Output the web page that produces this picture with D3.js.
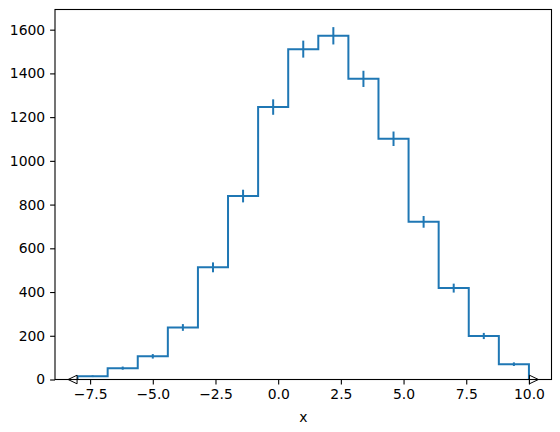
<!DOCTYPE html>
<html>
<head>
<meta charset="utf-8">
<script src="https://cdn.jsdelivr.net/npm/d3@7"></script>
<style>
  body { margin: 0; background: #fff; }
  text { font-family: "DejaVu Sans", sans-serif; }
</style>
</head>
<body>
<div id="chart"></div>
<script>
// bin edges and counts
var edges = [-8, -6.8, -5.6, -4.4, -3.2, -2.0, -0.8, 0.4, 1.6, 2.8, 4.0, 5.2, 6.4, 7.6, 8.8, 10];
var counts = [15, 52, 106, 238, 513, 839, 1246, 1511, 1572, 1375, 1101, 721, 418, 199, 70];
var xTicks = [-7.5, -5.0, -2.5, 0.0, 2.5, 5.0, 7.5, 10.0];
var yTicks = [0, 200, 400, 600, 800, 1000, 1200, 1400, 1600];

var W = 560, H = 432;
var margin = {top: 9.5, right: 8.5, bottom: 52.5, left: 55};
var width = W - margin.left - margin.right,
    height = H - margin.top - margin.bottom;

var svg = d3.select("#chart").append("svg")
    .attr("width", W).attr("height", H);
var g = svg.append("g")
    .attr("transform", "translate(" + margin.left + "," + margin.top + ")");

var x = d3.scaleLinear().domain([-8.9, 10.9]).range([0, width]);
var ymax = d3.max(counts, function(c) { return c + Math.sqrt(c); }) * 1.05;
var y = d3.scaleLinear().domain([0, ymax]).range([height, 0]);

var blue = "#1f77b4";

// step outline
var pts = [[edges[0], 0]];
counts.forEach(function(c, i) {
  pts.push([edges[i], c]);
  pts.push([edges[i + 1], c]);
});
pts.push([edges[edges.length - 1], 0]);
g.append("path")
  .datum(pts)
  .attr("fill", "none")
  .attr("stroke", blue)
  .attr("stroke-width", 2)
  .attr("d", d3.line().x(function(d) { return x(d[0]); }).y(function(d) { return y(d[1]); }));

// error bars
var bins = counts.map(function(c, i) { return {c: c, mid: (edges[i] + edges[i + 1]) / 2}; });
g.selectAll("line.err").data(bins).enter().append("line")
  .attr("class", "err")
  .attr("x1", function(d) { return x(d.mid); })
  .attr("x2", function(d) { return x(d.mid); })
  .attr("y1", function(d) { return y(d.c - Math.sqrt(d.c)); })
  .attr("y2", function(d) { return y(d.c + Math.sqrt(d.c)); })
  .attr("stroke", blue).attr("stroke-width", 2);

// under/overflow markers: base on the outer edge, tip pointing outward
var triW = 9, triH = 4.3;
[[edges[0], -1], [edges[edges.length - 1], 1]].forEach(function(m) {
  var bx = x(m[0]) + m[1] * 0.5, cy = y(0), s = m[1];
  g.append("path")
    .attr("d", "M" + (bx + s * triW) + "," + cy +
               "L" + bx + "," + (cy - triH) +
               "L" + bx + "," + (cy + triH) + "Z")
    .attr("fill", "#fff").attr("stroke", "#000").attr("stroke-width", 1);
});

// axes
var fmtX = function(d) { return d3.format(".1f")(d).replace("-", "\u2212"); };
var xAxis = g.append("g")
  .attr("transform", "translate(0," + height + ")")
  .call(d3.axisBottom(x).tickValues(xTicks).tickFormat(fmtX).tickSizeOuter(0).tickSize(4.9).tickPadding(4.9));
var yAxis = g.append("g")
  .call(d3.axisLeft(y).tickValues(yTicks).tickFormat(d3.format("d")).tickSizeOuter(0).tickSize(4.9).tickPadding(4.9));
[xAxis, yAxis].forEach(function(a) {
  a.select(".domain").remove();
  a.selectAll("line").attr("stroke", "#000").attr("stroke-width", 1.1);
  a.selectAll("text").attr("font-size", "13.9px").attr("fill", "#000")
    .attr("font-family", "DejaVu Sans, sans-serif");
});

// frame
g.append("rect")
  .attr("width", width).attr("height", height)
  .attr("fill", "none").attr("stroke", "#000").attr("stroke-width", 1.1);

g.append("text")
  .attr("x", width / 2).attr("y", height + 42)
  .attr("text-anchor", "middle")
  .attr("font-size", "13.9px")
  .text("x");
</script>
</body>
</html>
